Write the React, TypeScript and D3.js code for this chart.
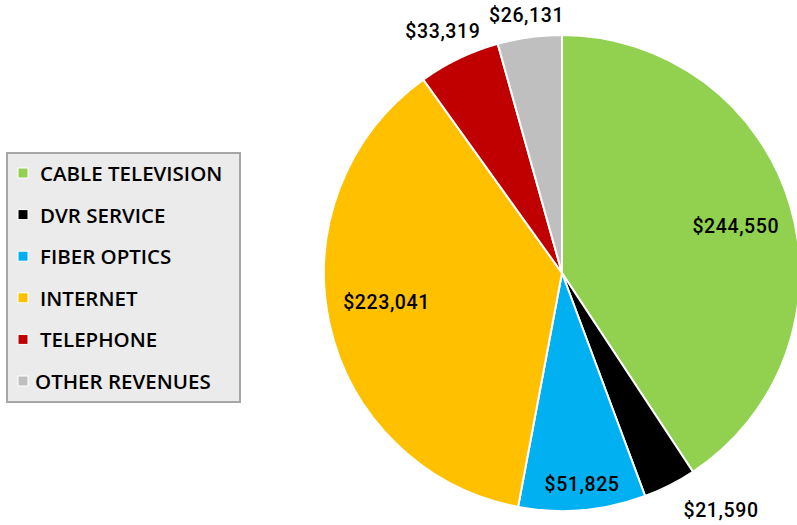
import React, { useEffect, useRef } from "react";
import * as d3 from "d3";

const categories = ["CABLE TELEVISION", "DVR SERVICE", "FIBER OPTICS", "INTERNET", "TELEPHONE", "OTHER REVENUES"];
const revenues = [244550, 21590, 51825, 223041, 33319, 26131];
const sliceColors = ["#92d050", "#000000", "#00b0f0", "#ffc000", "#c00000", "#bfbfbf"];

const WIDTH = 797;
const HEIGHT = 525;

export default function App() {
  const ref = useRef<SVGSVGElement>(null);

  useEffect(() => {
    const svg = d3.select(ref.current);
    svg.selectAll("*").remove();

    const cx = 562, cy = 273, radius = 238;
    const data = categories.map((name, i) => ({ name, value: revenues[i], color: sliceColors[i] }));

    const pie = d3.pie<any>().value((d) => d.value).sort(null);
    const arcs = pie(data);
    const arc = d3.arc<any>().innerRadius(0).outerRadius(radius);

    const g = svg.append("g").attr("transform", `translate(${cx},${cy})`);
    g.selectAll("path")
      .data(arcs)
      .enter()
      .append("path")
      .attr("d", arc)
      .attr("fill", (d) => d.data.color)
      .attr("stroke", "#fff")
      .attr("stroke-width", 2);

    // label radius and angle tweak (radians) for each slice
    const labelR = [180, 286, 212, 178, 269, 260];
    const labelShift = [0.028, -0.12, -0.009, 0.049, -0.011, 0];
    const fmt = d3.format("$,");

    g.selectAll("text.lbl")
      .data(arcs)
      .enter()
      .append("text")
      .attr("class", "lbl")
      .attr("x", (d, i) => Math.sin((d.startAngle + d.endAngle) / 2 + labelShift[i]) * labelR[i])
      .attr("y", (d, i) => -Math.cos((d.startAngle + d.endAngle) / 2 + labelShift[i]) * labelR[i])
      .attr("text-anchor", "middle")
      .attr("dominant-baseline", "central")
      .attr("font-family", "Roboto, sans-serif")
      .attr("font-weight", 500)
      .attr("font-size", 19.5)
      .attr("letter-spacing", 0.6)
      .attr("fill", "#000")
      .text((d) => fmt(d.data.value));

    // legend
    const legend = svg.append("g");
    legend.append("rect")
      .attr("x", 7).attr("y", 153)
      .attr("width", 233).attr("height", 249)
      .attr("fill", "#ebebeb")
      .attr("stroke", "#a6a6a6")
      .attr("stroke-width", 2);

    const y = d3.scalePoint<string>().domain(categories).range([173, 381]);
    const items = legend.selectAll("g.item")
      .data(data)
      .enter()
      .append("g")
      .attr("class", "item")
      .attr("transform", (d) => `translate(0,${y(d.name)})`);

    items.append("rect")
      .attr("x", 18).attr("y", -5)
      .attr("width", 10).attr("height", 10)
      .attr("fill", (d) => d.color)
      .attr("stroke", "#fff")
      .attr("stroke-width", 1);

    items.append("text")
      .attr("x", (d, i) => (i === 5 ? 35 : 40))
      .attr("y", 0)
      .attr("dominant-baseline", "central")
      .attr("font-family", "'Open Sans', sans-serif")
      .attr("font-weight", 600)
      .attr("font-size", 20.5)
      .attr("fill", "#000")
      .text((d) => d.name);
  }, []);

  return (
    <svg ref={ref} width={WIDTH} height={HEIGHT} style={{ position: "absolute", left: 0, top: 0 }} />
  );
}
